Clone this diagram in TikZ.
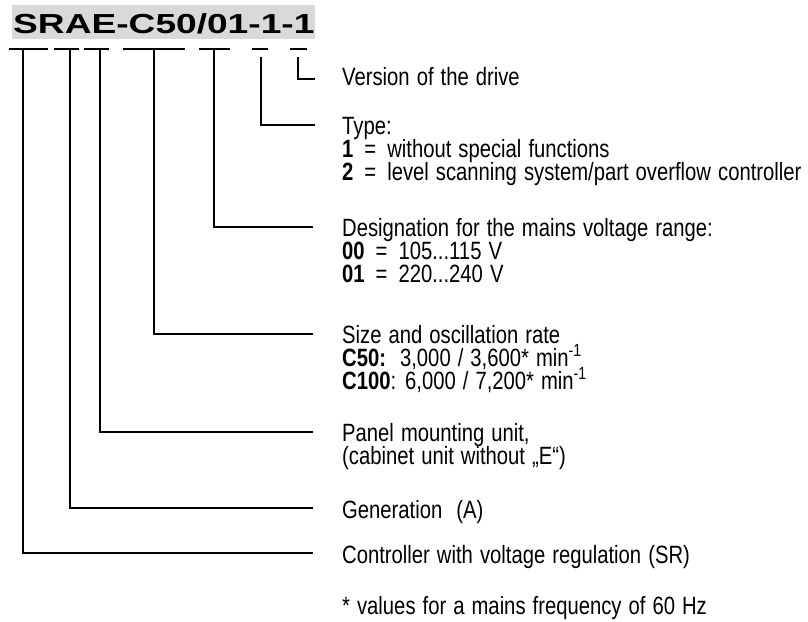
\documentclass[tikz,border=0pt]{standalone}
\usepackage{fontspec}
\setmainfont{Liberation Sans}[FakeStretch=0.81,WordSpace=1.25]
\newfontfamily\titlefont{Liberation Sans}[FakeStretch=1.35]
\newcommand{\myeq}{\hspace{11pt}=\hspace{11pt}}
\begin{document}
\begin{tikzpicture}[x=1pt,y=-1pt,
  txt/.style={anchor=base west, inner sep=0pt, font=\fontsize{25}{25}\selectfont},
  ln/.style={line width=1.3pt},
  ul/.style={line width=2pt}]
\useasboundingbox (0,0) rectangle (808,621);
\fill[black!15] (12,5) rectangle (315,39);
\node[anchor=base west, inner sep=0pt, font=\titlefont\bfseries\fontsize{27.5}{27.5}\selectfont] (title) at (13,33) {SRAE-C50/01-1-1};
% underline segments
\foreach \a/\b in {9/48,54/79,84/109,123/185,199/230,252/268,290/307}
  \draw[ul] (\a,49) -- (\b,49);
% start points
\coordinate (s1) at (298,57);
\coordinate (s2) at (261,57);
\coordinate (s3) at (214,50);
\coordinate (s4) at (154,50);
\coordinate (s5) at (100,50);
\coordinate (s6) at (70,50);
\coordinate (s7) at (23,50);
% end points
\coordinate (e1) at (315,79);
\coordinate (e2) at (315,125);
\coordinate (e3) at (313,227);
\coordinate (e4) at (313,334);
\coordinate (e5) at (313,432);
\coordinate (e6) at (313,508);
\coordinate (e7) at (313,553);
\foreach \i in {1,...,7} \draw[ln] (s\i) |- (e\i);
% texts
\node[txt] (t1) at (342,85) {Version of the drive};
\node[txt] (t2) at (342,134) {Type:};
\node[txt] (t2a) at (342,157) {\textbf{1}\myeq without special functions};
\node[txt] (t2b) at (342,180) {\textbf{2}\myeq level scanning system/part overflow controller};
\node[txt] (t3) at (342,236) {Designation for the mains voltage range:};
\node[txt] (t3a) at (342,259) {\textbf{00}\myeq 105...115 V};
\node[txt] (t3b) at (342,282) {\textbf{01}\myeq 220...240 V};
\node[txt] (t4) at (342,343) {Size and oscillation rate};
\node[txt] (t4a) at (342,366) {\textbf{C50:}\hspace{14pt}3,000 / 3,600* min\textsuperscript{-1}};
\node[txt] (t4b) at (342,389) {\textbf{C100}: 6,000 / 7,200* min\textsuperscript{-1}};
\node[txt] (t5) at (342,441) {Panel mounting unit,};
\node[txt] (t5a) at (342,464) {(cabinet unit without „E“)};
\node[txt] (t6) at (342,518) {Generation\ \ (A)};
\node[txt] (t7) at (342,563) {Controller with voltage regulation (SR)};
\node[txt] (t8) at (342,614) {* values for a mains frequency of 60 Hz};
\end{tikzpicture}
\end{document}
